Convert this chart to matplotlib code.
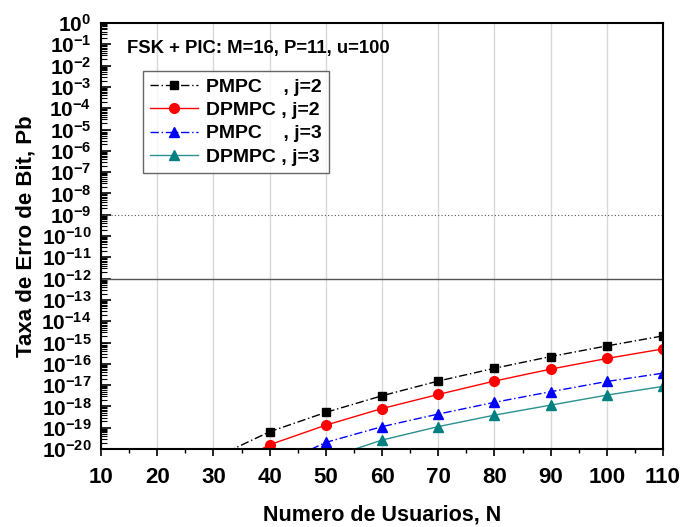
import numpy as np
import matplotlib
matplotlib.use("Agg")
import matplotlib.pyplot as plt
from matplotlib.ticker import LogLocator, FixedLocator, FuncFormatter, NullFormatter

plt.rcParams['font.family'] = ['Liberation Sans', 'DejaVu Sans']
plt.rcParams['font.weight'] = 'bold'
plt.rcParams['mathtext.fontset'] = 'custom'
plt.rcParams['mathtext.rm'] = 'Liberation Sans:bold'
plt.rcParams['mathtext.bf'] = 'Liberation Sans:bold'
plt.rcParams['mathtext.it'] = 'Liberation Sans:bold:italic'
plt.rcParams['mathtext.default'] = 'rm'

# --- data (log10 of Pb) ---
x_pmpc_j2 = [30, 40, 50, 60, 70, 80, 90, 100, 110]
y_pmpc_j2 = [-20.44, -19.19, -18.28, -17.50, -16.81, -16.21, -15.66, -15.16, -14.69]

x_dpmpc_j2 = [30, 40, 50, 60, 70, 80, 90, 100, 110]
y_dpmpc_j2 = [-21.23, -19.80, -18.88, -18.10, -17.44, -16.81, -16.25, -15.75, -15.30]

x_pmpc_j3 = [40, 50, 60, 70, 80, 90, 100, 110]
y_pmpc_j3 = [-20.93, -19.69, -18.95, -18.36, -17.81, -17.31, -16.83, -16.44]

x_dpmpc_j3 = [50, 60, 70, 80, 90, 100, 110]
y_dpmpc_j3 = [-20.46, -19.58, -18.95, -18.41, -17.94, -17.47, -17.06]

ref_dotted = 1e-9
ref_solid = 1e-12

fig = plt.figure(figsize=(6.84, 5.27), dpi=100)
ax = fig.add_axes([0.1477, 0.148, 0.8216, 0.8083])

ax.plot(x_pmpc_j2, 10.0 ** np.array(y_pmpc_j2), color='black', ls=(0, (6, 2, 1, 2)), lw=1.0,
        marker='s', ms=6.3, label='PMPC    , j=2')
ax.plot(x_dpmpc_j2, 10.0 ** np.array(y_dpmpc_j2), color='#ff0000', ls='-', lw=1.0,
        marker='o', ms=7, label='DPMPC , j=2')
ax.plot(x_pmpc_j3, 10.0 ** np.array(y_pmpc_j3), color='#0000ff', ls=(0, (6, 2, 1, 2)), lw=1.0,
        marker='^', ms=7.5, label='PMPC    , j=3')
ax.plot(x_dpmpc_j3, 10.0 ** np.array(y_dpmpc_j3), color='#2a9090', ls='-', lw=1.0,
        marker='^', ms=7.5, mfc='#008080', mec='#008080', label='DPMPC , j=3')

ax.axhline(ref_dotted, color='#555555', ls=(0, (1, 2)), lw=0.8, zorder=1)
ax.axhline(ref_solid, color='#555555', ls='-', lw=1.0, zorder=1)

ax.set_yscale('log')
ax.set_xlim(10, 110)
ax.set_ylim(1e-20, 1e0)

ax.set_xticks(range(10, 111, 10))
ax.xaxis.set_minor_locator(FixedLocator(range(15, 110, 10)))
ax.yaxis.set_major_locator(LogLocator(base=10, numticks=100))
ax.yaxis.set_minor_locator(LogLocator(base=10, subs=np.arange(2, 10), numticks=100))
ax.yaxis.set_minor_formatter(NullFormatter())

def fmt(v, pos):
    e = int(round(np.log10(v)))
    return r'$10^{%d}$' % e

ax.yaxis.set_major_formatter(FuncFormatter(fmt))

ax.tick_params(axis='y', which='major', direction='in', length=7, width=1.2, labelsize=15, pad=7)
ax.tick_params(axis='y', which='minor', direction='in', length=4, width=0.8)
ax.tick_params(axis='x', which='major', direction='out', length=5, width=1.2, labelsize=16, pad=8)
ax.tick_params(axis='x', which='minor', direction='out', length=3, width=1.0)
for lab in ax.get_xticklabels():
    lab.set_fontweight('bold')

for s in ax.spines.values():
    s.set_linewidth(1.5)

ax.xaxis.grid(True, which='major', color='#d8d8d8', lw=1.0)
ax.set_axisbelow(True)

ax.set_xlabel('Numero de Usuarios, N', fontsize=15.5, fontweight='bold', labelpad=12)
ax.set_ylabel('Taxa de Erro de Bit, Pb', fontsize=16, fontweight='bold', labelpad=3)

ax.text(0.046, 0.94, 'FSK + PIC: M=16, P=11, u=100', transform=ax.transAxes,
        fontsize=13.3, fontweight='bold', va='center', ha='left')

leg = ax.legend(loc='upper left', bbox_to_anchor=(0.0747, 0.887), fontsize=14,
                frameon=True, fancybox=False, handlelength=2.5, handletextpad=0.4,
                borderpad=0.35, labelspacing=0.3, borderaxespad=0)
leg.get_frame().set_edgecolor('#404040')
leg.get_frame().set_linewidth(1.0)
for t in leg.get_texts():
    t.set_fontweight('bold')

fig.savefig('out.png', dpi=100)
